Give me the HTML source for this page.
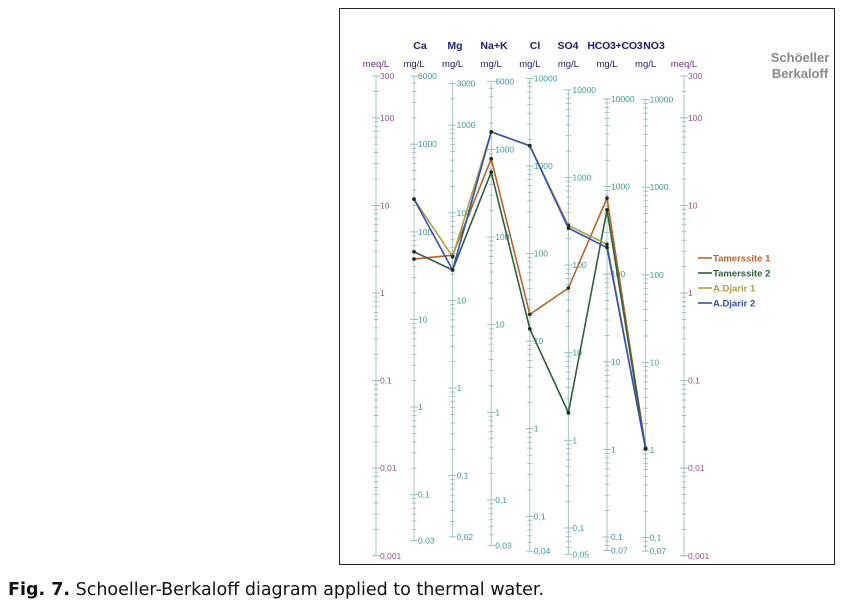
<!DOCTYPE html>
<html><head><meta charset="utf-8"><style>
body{margin:0;background:#fff;width:843px;height:610px;overflow:hidden;font-family:"Liberation Sans",sans-serif}
#frame{position:absolute;left:339px;top:8px;width:496px;height:557px;border:1.5px solid #222;box-sizing:border-box}
#cap{position:absolute;left:8px;top:580px;font-size:17.5px;color:#111;font-family:"DejaVu Sans",sans-serif;white-space:nowrap}
</style></head><body>
<div id="frame"></div>
<svg id="chart" width="843" height="610" style="position:absolute;left:0;top:0"></svg>
<div id="cap"><b>Fig. 7.</b> Schoeller-Berkaloff diagram applied to thermal water.</div>
<script>
const ions=["Ca","Mg","Na+K","Cl","SO4","HCO3+CO3","NO3"];
const eqWeights=[20.04,12.15,23,35.45,48.03,61,62];
const mgLabels=[[6000,1000,100,10,1,0.1,0.03],[3000,1000,100,10,1,0.1,0.02],[6000,1000,100,10,1,0.1,0.03],[10000,1000,100,10,1,0.1,0.04],[10000,1000,100,10,1,0.1,0.05],[10000,1000,100,10,1,0.1,0.07],[10000,1000,100,10,1,0.1,0.07]];
const meqLabels=[300,100,10,1,0.1,0.01,0.001];
const seriesNames=["Tamerssite 1","Tamerssite 2","A.Djarir 1","A.Djarir 2"];
const tamerssite1=[2.44,2.7,34,0.57,1.14,12.1,0.017];
const tamerssite2=[2.96,1.83,24,0.39,0.043,8.9,0.0166];
const djarir1=[11.8,2.6,69,48,5.9,3.6,0.0166];
const djarir2=[11.8,1.83,69,48,5.5,3.3,0.0166];
const seriesData=[tamerssite1,tamerssite2,djarir1,djarir2];
const colors=["#b5652e","#2f5e3c","#aaa040","#3350b0"];
const headerX=[420,455,494,535,568,615,654];

const svg=document.getElementById('chart');
const NS="http://www.w3.org/2000/svg";
function el(t,a,txt){const e=document.createElementNS(NS,t);for(const k in a)e.setAttribute(k,a[k]);if(txt!==undefined)e.textContent=txt;svg.appendChild(e);return e;}
const y=m=>293-87.6*Math.log10(m);
const axX=i=>414+38.6*i;
const fmt=v=>String(v).replace('.',',');

function drawAxis(x,lo,hi,toMeq,labels,color,name){
  const l=el('line',{x1:x,x2:x,y1:y(toMeq(hi)),y2:y(toMeq(lo)),stroke:'#a9c4c4','stroke-width':1});
  
  
  for(let d=-3;d<=4;d++){for(let k=1;k<=9;k++){const v=k*Math.pow(10,d);if(v<lo*0.999||v>hi*1.001)continue;
    const yy=y(toMeq(v));const w=(k===1)?4:2.5;
    el('line',{x1:x-w,x2:x+w,y1:yy,y2:yy,stroke:'#9bb',"stroke-width":0.8});}}
  labels.forEach(v=>{const yy=y(toMeq(v));
    el('line',{x1:x-4,x2:x+4,y1:yy,y2:yy,stroke:'#9bb','stroke-width':0.8});
    const t=el('text',{x:x+4,y:yy+3,'font-size':8.5,fill:color},fmt(v));
    
    });
}
[376,684].forEach((x,j)=>{
  drawAxis(x,0.001,300,v=>v,meqLabels,'#9a4f8a',j?'meq-right':'meq-left');
  const t=el('text',{x:x,y:67,'font-size':9.5,fill:'#6a2f80','text-anchor':'middle'},'meq/L');
  
  
});
ions.forEach((n,i)=>{
  const x=axX(i),w=eqWeights[i],labs=mgLabels[i];
  drawAxis(x,labs[labs.length-1],labs[0],v=>v/w,labs,'#3f9a96','ion-'+i);
  const h=el('text',{x:headerX[i],y:49,'font-size':10.5,'font-weight':'bold',fill:'#1c1c6a','text-anchor':'middle'},n);
  if(n.length>4)h.setAttribute('textLength',n.length*6.9);
  
  
  const u=el('text',{x:x,y:67,'font-size':9.5,fill:'#1c1c6a','text-anchor':'middle'},'mg/L');
  
  
});
const t1=el('text',{x:800,y:62,'font-size':13,'font-weight':'bold',fill:'#888','text-anchor':'middle'},'Schöeller');


const t2=el('text',{x:800,y:78,'font-size':13,'font-weight':'bold',fill:'#888','text-anchor':'middle'},'Berkaloff');


seriesData.forEach((d,s)=>{
  const pts=d.map((v,i)=>axX(i)+','+y(v)).join(' ');
  const p=el('polyline',{points:pts,fill:'none',stroke:colors[s],'stroke-width':1.6});
  
  
  d.forEach((v,i)=>{const c=el('circle',{cx:axX(i),cy:y(v),r:1.8,fill:'#1a2a1a'});
    
    });
  const ly=258+15*s;
  const ll=el('line',{x1:698,x2:712,y1:ly,y2:ly,stroke:colors[s],'stroke-width':1.6});
  
  
  const lt=el('text',{x:713,y:ly+3.5,'font-size':9.5,'font-weight':'bold',fill:colors[s]},seriesNames[s]);
  
  
});
</script>
</body></html>
